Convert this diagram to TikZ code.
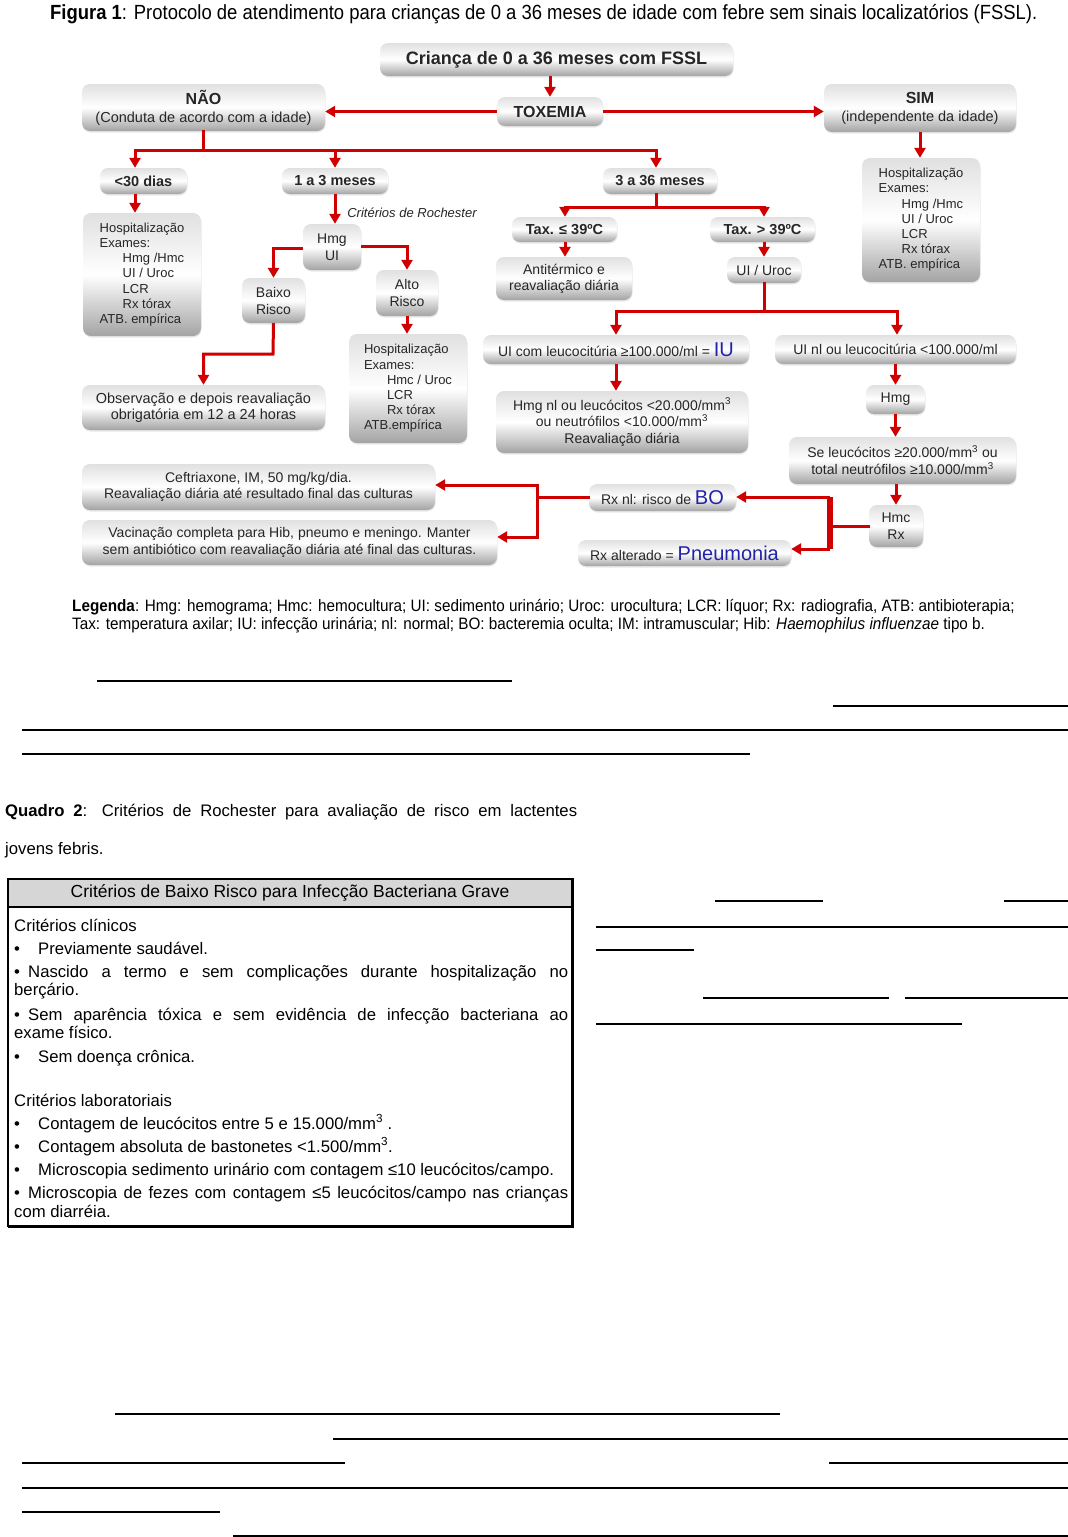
\documentclass[tikz,border=0pt]{standalone}
\usepackage{fontspec}
\setmainfont{Liberation Sans}
\newfontfamily\titlefont[FakeStretch=0.9]{Liberation Sans}
\newfontfamily\narrowfont[FakeStretch=0.925]{Liberation Sans}
\usetikzlibrary{arrows.meta,shadows}
\definecolor{redc}{RGB}{208,0,0}
\definecolor{blueIU}{RGB}{35,35,170}
\newcommand{\fsz}[2]{\fontsize{#1}{#2}\selectfont}
\newcommand{\hind}{\hspace*{23pt}}
\tikzset{
  bx/.style={rounded corners=8pt, top color=black!12, bottom color=black!36, middle color=white,
    drop shadow={shadow xshift=0.5pt, shadow yshift=-1.5pt, opacity=0.18},
    inner sep=0pt, align=center, text=black!85, font=\fsz{14}{16.5}},
  hosp/.style={bx, align=left, font=\fsz{13}{15.2}},
  ln/.style={draw=redc, line width=3pt, line cap=rect},
  arr/.style={draw=redc, line width=3pt, -{Triangle[length=10pt,width=11pt]}},
  ul/.style={draw=black, line width=1.5pt},
  txt/.style={anchor=base west, inner sep=0pt, font=\fsz{16.7}{18}, text=black},
}
\begin{document}
\begin{tikzpicture}[x=1pt,y=-1pt]
\useasboundingbox (0,0) rectangle (1068,1537);
\fill[white] (0,0) rectangle (1068,1537);

% title
\node[anchor=base west, inner sep=0pt, font=\titlefont\fsz{20.5}{22}] (title) at (50,19)
  {\textbf{Figura 1}: Protocolo de atendimento para crianças de 0 a 36 meses de idade com febre sem sinais localizatórios (FSSL).};

% boxes
\node[bx, minimum width=353pt, minimum height=33pt, font=\bfseries\fsz{18}{20}] (crianca) at (556.5,59.5) {Criança de 0 a 36 meses com FSSL};
\node[bx, minimum width=106pt, minimum height=29pt, font=\bfseries\fsz{16}{18}] (toxemia) at (550,111.5) {TOXEMIA};
\node[bx, minimum width=243pt, minimum height=47pt, font=\fsz{14.5}{18}] (nao) at (203.5,107.5) {{\bfseries\fsz{16}{18}NÃO}\\(Conduta de acordo com a idade)};
\node[bx, minimum width=192pt, minimum height=48pt, font=\fsz{14.5}{18}] (sim) at (920,108) {{\bfseries\fsz{16}{18}SIM}\\(independente da idade)};

\node[bx, minimum width=87pt, minimum height=26pt, font=\bfseries\fsz{14.5}{16}] (d30) at (143.5,181) {<30 dias};
\node[bx, minimum width=106pt, minimum height=26pt, font=\bfseries\fsz{14.5}{16}] (m13) at (335,181) {1 a 3 meses};
\node[bx, minimum width=114pt, minimum height=26pt, font=\bfseries\fsz{14.5}{16}] (m336) at (660,181) {3 a 36 meses};

\node[hosp, minimum width=118pt, minimum height=124pt] (hospsim) at (921,220)
  {Hospitalização\\Exames:\\\hind Hmg /Hmc\\\hind UI / Uroc\\\hind LCR\\\hind Rx tórax\\ATB. empírica};
\node[hosp, minimum width=118pt, minimum height=123pt] (hosp30) at (142,274.5)
  {Hospitalização\\Exames:\\\hind Hmg /Hmc\\\hind UI / Uroc\\\hind LCR\\\hind Rx tórax\\ATB. empírica};

\node[bx, minimum width=58pt, minimum height=46pt, font=\fsz{14}{17}] (hmgui) at (332,247) {Hmg\\UI};
\node[bx, minimum width=63pt, minimum height=45pt, font=\fsz{14}{17}] (baixo) at (273.5,300.5) {Baixo\\Risco};
\node[bx, minimum width=62pt, minimum height=46pt, font=\fsz{14}{16.5}] (alto) at (407,293) {Alto\\Risco};
\node[hosp, minimum width=118pt, minimum height=109pt] (hospalto) at (408,388.5)
  {Hospitalização\\Exames:\\\hind Hmc / Uroc\\\hind LCR\\\hind Rx tórax\\ATB.empírica};
\node[bx, minimum width=243pt, minimum height=45pt, font=\fsz{14.5}{16.5}] (obs) at (203.5,407.5) {Observação e depois reavaliação\\obrigatória em 12 a 24 horas};

\node[anchor=center, inner sep=0pt, font=\itshape\fsz{13}{14}, text=black!85] (roch) at (412,213) {Critérios de Rochester};

\node[bx, minimum width=105pt, minimum height=25pt, font=\bfseries\fsz{14.5}{16}] (taxle) at (564.5,229.5) {Tax. ≤ 39ºC};
\node[bx, minimum width=105pt, minimum height=25pt, font=\bfseries\fsz{14.5}{16}] (taxgt) at (762.5,229.5) {Tax. > 39ºC};
\node[bx, minimum width=136pt, minimum height=43pt, font=\fsz{14}{16}] (antit) at (564,278.5) {Antitérmico e\\reavaliação diária};
\node[bx, minimum width=74pt, minimum height=26pt] (uiuroc) at (764,270) {UI / Uroc};
\node[bx, minimum width=266pt, minimum height=29pt] (uicom) at (616,349.5) {UI com leucocitúria ≥100.000/ml = {\color{blueIU}\fsz{20}{20}IU}};
\node[bx, minimum width=241pt, minimum height=29pt] (uinl) at (895.5,349.5) {UI nl ou leucocitúria <100.000/ml};
\node[bx, minimum width=252pt, minimum height=62pt, font=\fsz{14}{16.5}] (hmgnl) at (622,422) {Hmg nl ou leucócitos <20.000/mm\textsuperscript{3}\\ou neutrófilos <10.000/mm\textsuperscript{3}\\Reavaliação diária};
\node[bx, minimum width=59pt, minimum height=29pt] (hmg) at (895.5,399.5) {Hmg};
\node[bx, minimum width=227pt, minimum height=47pt, font=\fsz{14}{17}] (seleu) at (902.5,460.5) {Se leucócitos ≥20.000/mm\textsuperscript{3} ou\\total neutrófilos ≥10.000/mm\textsuperscript{3}};
\node[bx, minimum width=54pt, minimum height=42pt, font=\fsz{14}{17}] (hmcrx) at (896,526) {Hmc\\Rx};
\node[bx, minimum width=147pt, minimum height=27pt] (rxnl) at (662.5,497.5) {Rx nl: risco de {\color{blueIU}\fsz{20}{20}BO}};
\node[bx, minimum width=213pt, minimum height=26pt] (rxalt) at (684.5,553) {Rx alterado = {\color{blueIU}\fsz{20}{20}Pneumonia}};
\node[bx, minimum width=353pt, minimum height=46pt, font=\fsz{14}{16.5}] (ceft) at (258.5,487) {Ceftriaxone, IM, 50 mg/kg/dia.\\Reavaliação diária até resultado final das culturas};
\node[bx, minimum width=415pt, minimum height=45pt, font=\fsz{14}{17}] (vacin) at (289.5,542.5) {Vacinação completa para Hib, pneumo e meningo. Manter\\sem antibiótico com reavaliação diária até final das culturas.};

% connectors
\draw[arr] (toxemia.north |- crianca.south) -- (toxemia.north);
\draw[arr] (toxemia.west) -- (toxemia.west -| nao.east);
\draw[arr] (toxemia.east) -- (toxemia.east -| sim.west);

\coordinate (b1) at (203,150);
\coordinate (b1l) at (135,150);
\coordinate (b1m) at (335,150);
\coordinate (b1r) at (656,150);
\draw[ln] (nao.south -| b1) -- (b1);
\draw[ln] (b1l) -- (b1r);
\draw[arr] (b1l) -- (b1l |- d30.north);
\draw[arr] (b1m) -- (b1m |- m13.north);
\draw[arr] (b1r) -- (b1r |- m336.north);
\draw[arr] (sim.south) -- (sim.south |- hospsim.north);
\draw[arr] (b1l |- d30.south) -- (b1l |- hosp30.north);
\draw[arr] (b1m |- m13.south) -- (b1m |- hmgui.north);

\coordinate (c1) at (273,248);
\coordinate (c2) at (407,246);
\coordinate (c3) at (273,354);
\draw[arr] (hmgui.west |- c1) -| (baixo.north);
\draw[arr] (hmgui.east |- c2) -| (alto.north);
\draw[arr] (alto.south) -- (alto.south |- hospalto.north);
\draw[arr] (baixo.south) -- (c3) -| (obs.north);

\coordinate (b2) at (656,207);
\coordinate (b2l) at (565,207);
\coordinate (b2r) at (764,207);
\draw[ln] (b2 |- m336.south) -- (b2);
\draw[ln] (b2l) -- (b2r);
\draw[arr] (b2l) -- (b2l |- taxle.north);
\draw[arr] (b2r) -- (b2r |- taxgt.north);
\draw[arr] (b2l |- taxle.south) -- (b2l |- antit.north);
\draw[arr] (b2r |- taxgt.south) -- (b2r |- uiuroc.north);

\coordinate (b3) at (764,311);
\coordinate (b3l) at (616,311);
\coordinate (b3r) at (897,311);
\draw[ln] (b3 |- uiuroc.south) -- (b3);
\draw[ln] (b3l) -- (b3r);
\draw[arr] (b3l) -- (b3l |- uicom.north);
\draw[arr] (b3r) -- (b3r |- uinl.north);
\draw[arr] (b3l |- uicom.south) -- (b3l |- hmgnl.north);
\draw[arr] (hmg.north |- uinl.south) -- (hmg.north);
\draw[arr] (hmg.south) -- (hmg.south |- seleu.north);
\draw[arr] (hmcrx.north |- seleu.south) -- (hmcrx.north);

\coordinate (v1) at (830,524);
\coordinate (v1t) at (830,497);
\coordinate (v1b) at (830,549);
\draw[ln] (hmcrx.west) -- (hmcrx.west -| v1);
\draw[draw=redc, line width=5.5pt] (v1t) -- (v1b);
\draw[arr] (v1t) -- (v1t -| rxnl.east);
\draw[arr] (v1b) -- (v1b -| rxalt.east);

\coordinate (v2) at (537,497);
\coordinate (v2t) at (537,485);
\coordinate (v2b) at (537,537);
\draw[ln] (rxnl.west |- v2) -- (v2);
\draw[ln] (v2t) -- (v2b);
\draw[arr] (v2t) -- (v2t -| ceft.east);
\draw[arr] (v2b) -- (v2b -| vacin.east);

% legend
\node[anchor=base west, inner sep=0pt, font=\narrowfont\fsz{16.5}{18}] (leg1) at (72,611)
  {\textbf{Legenda}: Hmg: hemograma; Hmc: hemocultura; UI: sedimento urinário; Uroc: urocultura; LCR: líquor; Rx: radiografia, ATB: antibioterapia;};
\node[anchor=base west, inner sep=0pt, font=\narrowfont\fsz{16.5}{18}] (leg2) at (72,629)
  {Tax: temperatura axilar; IU: infecção urinária; nl: normal; BO: bacteremia oculta; IM: intramuscular; Hib: \textit{Haemophilus influenzae} tipo b.};

% underlines top
\draw[ul, line width=2.3pt] (97,681) -- (512,681);
\draw[ul] (833,706) -- (1068,706);
\draw[ul] (22,730) -- (1068,730);
\draw[ul] (22,754) -- (750,754);

% Quadro caption
\node[txt] (q1) at (5,816) {\makebox[572pt][s]{\textbf{Quadro 2}: Critérios de Rochester para avaliação de risco em lactentes}};
\node[txt] (q2) at (5,854) {jovens febris.};

% table
\fill[black!16] (8,879) rectangle (573,907);
\draw[line width=1.4pt] (8,879) rectangle (573,1226);
\draw[line width=1.2pt] (8,907) -- (573,907);
\draw[line width=2.4pt] (572.5,879) -- (572.5,1227) -- (8,1227);
\node[anchor=center, inner sep=0pt, font=\fsz{17.5}{18}] (th) at (290,893) {Critérios de Baixo Risco para Infecção Bacteriana Grave};

\node[txt] (tc) at (14,931) {Critérios clínicos};
\node[txt] (t1) at (14,954) {\makebox[24pt][l]{•}Previamente saudável.};
\node[txt] (t2b) at (14,977) {•};
\node[txt] (t2) at (28,977) {\makebox[540pt][s]{Nascido a termo e sem complicações durante hospitalização no}};
\node[txt] (t2c) at (14,995) {berçário.};
\node[txt] (t3b) at (14,1020) {•};
\node[txt] (t3) at (28,1020) {\makebox[540pt][s]{Sem aparência tóxica e sem evidência de infecção bacteriana ao}};
\node[txt] (t3c) at (14,1038) {exame físico.};
\node[txt] (t4) at (14,1062) {\makebox[24pt][l]{•}Sem doença crônica.};
\node[txt] (tl) at (14,1106) {Critérios laboratoriais};
\node[txt] (t5) at (14,1129) {\makebox[24pt][l]{•}Contagem de leucócitos entre 5 e 15.000/mm\textsuperscript{3} .};
\node[txt] (t6) at (14,1152) {\makebox[24pt][l]{•}Contagem absoluta de bastonetes <1.500/mm\textsuperscript{3}.};
\node[txt] (t7) at (14,1175) {\makebox[24pt][l]{•}Microscopia sedimento urinário com contagem ≤10 leucócitos/campo.};
\node[txt] (t8b) at (14,1198) {•};
\node[txt] (t8) at (28,1198) {\makebox[540pt][s]{Microscopia de fezes com contagem ≤5 leucócitos/campo nas crianças}};
\node[txt] (t8c) at (14,1217) {com diarréia.};

% underlines right of table
\draw[ul] (715,901) -- (823,901);
\draw[ul] (1004,901) -- (1068,901);
\draw[ul] (596,927) -- (1068,927);
\draw[ul] (596,950) -- (694,950);
\draw[ul] (703,998) -- (889,998);
\draw[ul] (905,998) -- (1068,998);
\draw[ul, line width=2.4pt] (596,1024) -- (962,1024);

% underlines bottom
\draw[ul] (115,1414) -- (780,1414);
\draw[ul, line width=2pt] (333,1439) -- (1068,1439);
\draw[ul] (22,1463) -- (345,1463);
\draw[ul] (829,1463) -- (1068,1463);
\draw[ul] (22,1488) -- (1068,1488);
\draw[ul] (22,1512) -- (220,1512);
\draw[ul] (233,1536) -- (1068,1536);
\end{tikzpicture}
\end{document}
